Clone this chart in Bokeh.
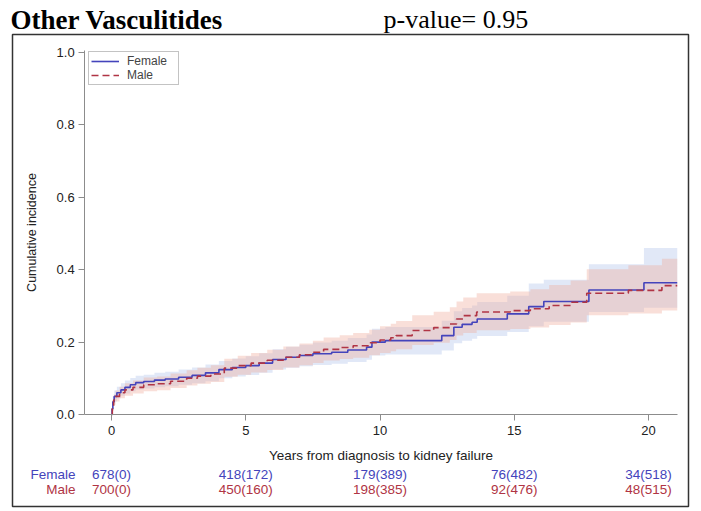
from bokeh.plotting import figure
from bokeh.models import (ColumnDataSource, LinearAxis, FixedTicker, Range1d,
                          BoxAnnotation, Legend, LegendItem, CustomJSTickFormatter)
from bokeh.core.properties import value
from bokeh.embed import file_html
from bokeh.resources import INLINE

# Cumulative incidence of kidney failure, step estimates with 95% CI
female_t = [0, 0.02, 0.05, 0.1, 0.2, 0.35, 0.5, 0.7, 0.9, 1.2, 1.6, 2.0, 2.5, 3.0, 3.5,
            4.0, 4.5, 5.0, 5.5, 6.0, 6.5, 7.0, 7.5, 8.2, 8.8, 9.5, 9.7, 10.2, 12.3,
            12.75, 13.06, 13.43, 13.62, 14.74, 15.54, 16.1, 17.78, 19.83, 21.07]
female_ci = [0, 0.015, 0.035, 0.05, 0.06, 0.068, 0.075, 0.082, 0.088, 0.091, 0.095, 0.098,
             0.103, 0.108, 0.115, 0.124, 0.13, 0.135, 0.142, 0.152, 0.158, 0.163, 0.168,
             0.172, 0.178, 0.186, 0.2, 0.204, 0.218, 0.241, 0.249, 0.255, 0.264, 0.278,
             0.298, 0.312, 0.344, 0.364, 0.364]
female_lo = [0, 0.008, 0.024, 0.036, 0.045, 0.052, 0.058, 0.064, 0.069, 0.072, 0.075, 0.078,
             0.082, 0.086, 0.092, 0.1, 0.105, 0.109, 0.115, 0.124, 0.129, 0.133, 0.137,
             0.14, 0.145, 0.151, 0.163, 0.166, 0.177, 0.197, 0.204, 0.209, 0.217, 0.228,
             0.244, 0.256, 0.283, 0.295, 0.295]
female_hi = [0, 0.025, 0.05, 0.066, 0.077, 0.086, 0.094, 0.101, 0.107, 0.11, 0.115, 0.118,
             0.124, 0.13, 0.138, 0.148, 0.155, 0.161, 0.169, 0.18, 0.187, 0.193, 0.199,
             0.204, 0.211, 0.221, 0.237, 0.242, 0.259, 0.285, 0.294, 0.301, 0.311, 0.328,
             0.362, 0.372, 0.415, 0.46, 0.46]

male_t = [0, 0.03, 0.08, 0.15, 0.3, 0.5, 0.8, 1.2, 1.7, 2.2, 2.8, 3.2, 3.7, 4.2, 4.7, 5.2,
          5.8, 6.4, 7.0, 7.5, 7.9, 8.5, 9.0, 9.6, 10.0, 10.4, 10.6, 11.2, 12.0, 12.6, 12.85,
          13.1, 13.6, 14.85, 15.6, 16.3, 17.1, 17.7, 19.25, 20.5, 21.07]
male_ci = [0, 0.02, 0.04, 0.05, 0.06, 0.068, 0.075, 0.082, 0.085, 0.092, 0.1, 0.106, 0.112,
           0.128, 0.135, 0.142, 0.15, 0.158, 0.165, 0.172, 0.18, 0.185, 0.19, 0.198, 0.206,
           0.212, 0.218, 0.232, 0.24, 0.25, 0.264, 0.273, 0.283, 0.287, 0.292, 0.301, 0.31,
           0.335, 0.343, 0.356, 0.356]
male_lo = [0, 0.01, 0.027, 0.036, 0.045, 0.052, 0.058, 0.064, 0.067, 0.073, 0.08, 0.085,
           0.09, 0.104, 0.11, 0.116, 0.123, 0.13, 0.136, 0.142, 0.149, 0.153, 0.157, 0.164,
           0.17, 0.175, 0.18, 0.192, 0.198, 0.206, 0.218, 0.225, 0.233, 0.236, 0.24, 0.247,
           0.254, 0.274, 0.279, 0.287, 0.287]
male_hi = [0, 0.032, 0.055, 0.066, 0.077, 0.086, 0.094, 0.102, 0.105, 0.113, 0.122, 0.129,
           0.136, 0.154, 0.162, 0.17, 0.179, 0.188, 0.196, 0.204, 0.213, 0.219, 0.225, 0.234,
           0.244, 0.251, 0.258, 0.274, 0.284, 0.296, 0.312, 0.323, 0.335, 0.34, 0.346, 0.358,
           0.37, 0.401, 0.412, 0.43, 0.44]

# Numbers at risk (events) under each x tick
risk_times = [0, 5, 10, 15, 20]
female_risk = ["678(0)", "418(172)", "179(389)", "76(482)", "34(518)"]
male_risk = ["700(0)", "450(160)", "198(385)", "92(476)", "48(515)"]
groups = ["Female", "Male"]

x_ticks = [0, 5, 10, 15, 20]
y_ticks = [0.0, 0.2, 0.4, 0.6, 0.8, 1.0]
x_axis_span = (-1.0, 21.07)
y_axis_span = (0.0, 1.0055)

FEMALE = "#4444bb"
MALE = "#b03444"
SANS = "Liberation Sans"
SERIF = "Liberation Serif"

W, H = 701, 511
# page layout in pixels: where t=0 / t=20 and y=0 / y=1 sit on the canvas
X0_PX, X20_PX = 111.0, 648.0
Y0_PX, Y1_PX = 414.0, 52.0


def t_at(px):
    return (px - X0_PX) * 20.0 / (X20_PX - X0_PX)


def v_at(py):
    return (Y0_PX - py) / (Y0_PX - Y1_PX)


p = figure(width=W, height=H, output_backend="svg", toolbar_location=None,
           x_range=Range1d(t_at(0), t_at(W)), y_range=Range1d(v_at(H), v_at(0)),
           x_axis_location=None, y_axis_location=None,
           min_border_left=0, min_border_right=0, min_border_top=0, min_border_bottom=0)
p.outline_line_color = None
p.xgrid.visible = False
p.ygrid.visible = False
p.background_fill_color = "white"
p.border_fill_color = "white"

# Panel border around the chart and risk table
p.add_layout(BoxAnnotation(left=t_at(12), right=t_at(688), top=v_at(34), bottom=v_at(506),
                           fill_alpha=0, line_color="#333333", line_alpha=1.0,
                           line_width=1.5, level="underlay"))

fs = ColumnDataSource(dict(t=female_t, y=female_ci, lo=female_lo, hi=female_hi))
ms = ColumnDataSource(dict(t=male_t, y=male_ci, lo=male_lo, hi=male_hi))

p.varea_step(x="t", y1="lo", y2="hi", source=fs, step_mode="after",
             fill_color="#a9bde9", fill_alpha=0.35)
p.varea_step(x="t", y1="lo", y2="hi", source=ms, step_mode="after",
             fill_color="#f0aa9c", fill_alpha=0.38)
rf = p.step(x="t", y="y", source=fs, mode="after", line_color=FEMALE, line_width=1.6)
rm = p.step(x="t", y="y", source=ms, mode="after", line_color=MALE, line_width=1.6,
            line_dash="7 4")

legend = Legend(items=[LegendItem(label=groups[0], renderers=[rf]),
                       LegendItem(label=groups[1], renderers=[rm])],
                location=(88, H - 85), margin=0, padding=2, spacing=0,
                label_text_font=SANS, label_text_font_size="12px",
                label_height=14, label_width=49, glyph_height=14, glyph_width=28,
                label_standoff=8, border_line_color="#888888", border_line_width=1,
                background_fill_alpha=1.0)
p.add_layout(legend)


def style_axis(ax):
    ax.axis_line_color = "#8c8c8c"
    ax.major_tick_line_color = "#8c8c8c"
    ax.minor_tick_line_color = None
    ax.major_tick_out = 6
    ax.major_tick_in = 0
    ax.major_label_text_font = SANS
    ax.major_label_text_font_size = "13px"
    ax.major_label_text_color = "#222222"
    ax.axis_label_text_font = SANS
    ax.axis_label_text_font_style = "normal"
    ax.axis_label_text_color = "#222222"


xa = LinearAxis(fixed_location=0.0, bounds=x_axis_span, ticker=FixedTicker(ticks=x_ticks),
                axis_label="Years from diagnosis to kidney failure")
style_axis(xa)
xa.axis_label_text_font_size = "13.5px"
xa.major_label_standoff = 5
xa.axis_label_standoff = 10
p.add_layout(xa, "below")

ya = LinearAxis(fixed_location=x_axis_span[0], bounds=y_axis_span,
                ticker=FixedTicker(ticks=y_ticks),
                formatter=CustomJSTickFormatter(code="return tick.toFixed(1);"),
                axis_label="Cumulative incidence")
style_axis(ya)
ya.axis_label_text_font_size = "12.5px"
ya.major_label_standoff = 4
ya.axis_label_standoff = 14
p.add_layout(ya, "left")

# Risk table: counts centred under the ticks, group names to the left
for labels, color, row_px in ((female_risk, FEMALE, 474), (male_risk, MALE, 489)):
    p.text(x=risk_times, y=[v_at(row_px)] * len(risk_times), text=labels,
           text_align="center", text_baseline="middle", text_color=color,
           text_font=value(SANS), text_font_size="13.5px")
p.text(x=[t_at(75)] * 2, y=[v_at(474), v_at(489)], text=groups,
       text_align="right", text_baseline="middle", text_color=[FEMALE, MALE],
       text_font=value(SANS), text_font_size="13.5px")

# Heading and test result above the panel
p.text(x=[t_at(10)], y=[v_at(19)], text=["Other Vasculitides"], text_align="left",
       text_baseline="alphabetic", text_color="black", text_font=value(SERIF),
       text_font_size="27px", text_font_style="bold")
p.text(x=[t_at(383)], y=[v_at(19)], text=["p-value= 0.95"], text_align="left",
       text_baseline="alphabetic", text_color="black", text_font=value(SERIF),
       text_font_size="26px")

open("out.html", "w").write(file_html(p, INLINE))
